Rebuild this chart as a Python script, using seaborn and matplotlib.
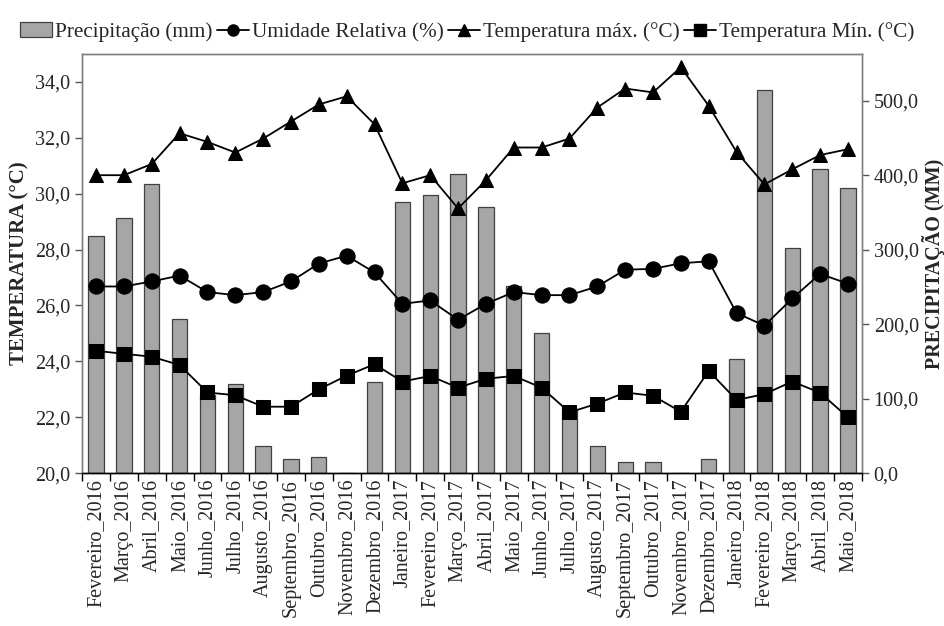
import numpy as np
import pandas as pd
import matplotlib
matplotlib.use('Agg')
import matplotlib.pyplot as plt
import seaborn as sns
from matplotlib.lines import Line2D
from matplotlib.patches import Patch
from matplotlib.ticker import FuncFormatter, FixedLocator

# Data
months = ['Fevereiro_2016', 'Março_2016', 'Abril_2016', 'Maio_2016', 'Junho_2016', 'Julho_2016',
          'Augusto_2016', 'Septembro_2016', 'Outubro_2016', 'Novembro_2016', 'Dezembro_2016',
          'Janeiro_2017', 'Fevereiro_2017', 'Março_2017', 'Abril_2017', 'Maio_2017', 'Junho_2017',
          'Julho_2017', 'Augusto_2017', 'Septembro_2017', 'Outubro_2017', 'Novembro_2017',
          'Dezembro_2017', 'Janeiro_2018', 'Fevereiro_2018', 'Março_2018', 'Abril_2018', 'Maio_2018']

precip = [318.7, 342.0, 388.6, 207.3, 105.6, 119.5, 36.3, 19.3, 21.9, 0.0, 122.7,
          363.5, 372.9, 401.1, 356.8, 251.1, 188.9, 85.9, 36.7, 15.7, 15.3, 0.0,
          19.7, 153.1, 514.0, 302.6, 408.7, 382.3]

# humidity as drawn on the temperature scale
umidade = [26.68, 26.68, 26.86, 27.07, 26.48, 26.37, 26.48, 26.86, 27.50, 27.78, 27.18,
           26.06, 26.18, 25.49, 26.06, 26.48, 26.37, 26.37, 26.68, 27.28, 27.31, 27.51,
           27.58, 25.73, 25.28, 26.25, 27.13, 26.78]

tmax = [30.66, 30.66, 31.06, 32.16, 31.85, 31.47, 31.97, 32.58, 33.19, 33.48, 32.48,
        30.37, 30.66, 29.47, 30.48, 31.65, 31.65, 31.97, 33.08, 33.76, 33.62, 34.52,
        33.14, 31.49, 30.33, 30.87, 31.38, 31.59]

tmin = [24.38, 24.27, 24.17, 23.87, 22.89, 22.79, 22.38, 22.38, 23.00, 23.49, 23.90,
        23.28, 23.48, 23.06, 23.38, 23.48, 23.06, 22.18, 22.49, 22.89, 22.77, 22.20,
        23.66, 22.62, 22.83, 23.28, 22.88, 22.00]

df = pd.DataFrame({'Mes': months, 'Precip': precip, 'Umidade': umidade,
                   'Tmax': tmax, 'Tmin': tmin})
df['pos'] = np.arange(len(df))

sns.set_style('white')
plt.rcParams['font.family'] = ['Liberation Serif', 'DejaVu Serif']

fig, ax = plt.subplots(figsize=(9.44, 6.26), dpi=100)
fig.subplots_adjust(left=0.087, right=0.913, top=0.914, bottom=0.244)
ax2 = ax.twinx()

# bars on the right axis, drawn underneath the lines
sns.barplot(data=df, x='pos', y='Precip', ax=ax2, color='#a6a6a6', saturation=1,
            width=0.55, edgecolor='#404040', linewidth=0.9, native_scale=True)
ax.set_zorder(ax2.get_zorder() + 1)
ax.patch.set_visible(False)

line_kw = dict(color='black', linewidth=1.3, markeredgecolor='black', markerfacecolor='black')
sns.lineplot(data=df, x='pos', y='Umidade', ax=ax, marker='o', markersize=11, **line_kw)
sns.lineplot(data=df, x='pos', y='Tmax', ax=ax, marker='^', markersize=10, **line_kw)
sns.lineplot(data=df, x='pos', y='Tmin', ax=ax, marker='s', markersize=10, **line_kw)

ax.set_ylim(20, 35)
ax2.set_ylim(0, 563)
ax.set_xlim(-0.5, len(df) - 0.5)

ax.set_yticks(np.arange(20, 35, 2))
ax2.set_yticks(np.arange(0, 501, 100))
comma = FuncFormatter(lambda v, p: f'{v:.1f}'.replace('.', ','))
ax.yaxis.set_major_formatter(comma)
ax2.yaxis.set_major_formatter(comma)

# ticks at category boundaries, labels at category centres
ax.xaxis.set_major_locator(FixedLocator(np.arange(-0.5, len(df), 1)))
ax.xaxis.set_minor_locator(FixedLocator(np.arange(len(df))))
ax.set_xticklabels([], minor=False)
ax.set_xticklabels(months, minor=True, rotation=90, fontsize=14.5)
ax.tick_params(axis='x', which='major', direction='out', length=6, width=1, color='black', bottom=True)
ax.tick_params(axis='x', which='minor', length=0, pad=4)
ax.tick_params(axis='y', direction='out', length=5, width=1, color='#555555', labelsize=14.5, left=True)
ax2.tick_params(axis='y', direction='out', length=5, width=1, color='#555555', labelsize=14.5, right=True)
ax2.tick_params(axis='x', which='both', bottom=False, labelbottom=False)

ax.set_xlabel('')
ax2.set_xlabel('')
ax.set_ylabel('TEMPERATURA (°C)', fontsize=15, fontweight='bold', labelpad=4)
ax2.set_ylabel('PRECIPITAÇÃO (MM)', fontsize=14.5, fontweight='bold', labelpad=2)

for a in (ax, ax2):
    for s in a.spines.values():
        s.set_color('#7f7f7f')
        s.set_linewidth(1)
ax.spines['bottom'].set_color('black')
ax2.spines['bottom'].set_color('black')

handles = [Patch(facecolor='#a6a6a6', edgecolor='#404040', linewidth=0.9),
           Line2D([], [], marker='o', markersize=8, **line_kw),
           Line2D([], [], marker='^', markersize=8, **line_kw),
           Line2D([], [], marker='s', markersize=8, **line_kw)]
labels = ['Precipitação (mm)', 'Umidade Relativa (%)', 'Temperatura máx. (°C)', 'Temperatura Mín. (°C)']
fig.legend(handles, labels, loc='upper center', bbox_to_anchor=(0.495, 0.995), ncol=4,
           frameon=False, fontsize=15.3, handlelength=1.5, handletextpad=0.15, columnspacing=0.2)

plt.savefig('out.png', dpi=100)
